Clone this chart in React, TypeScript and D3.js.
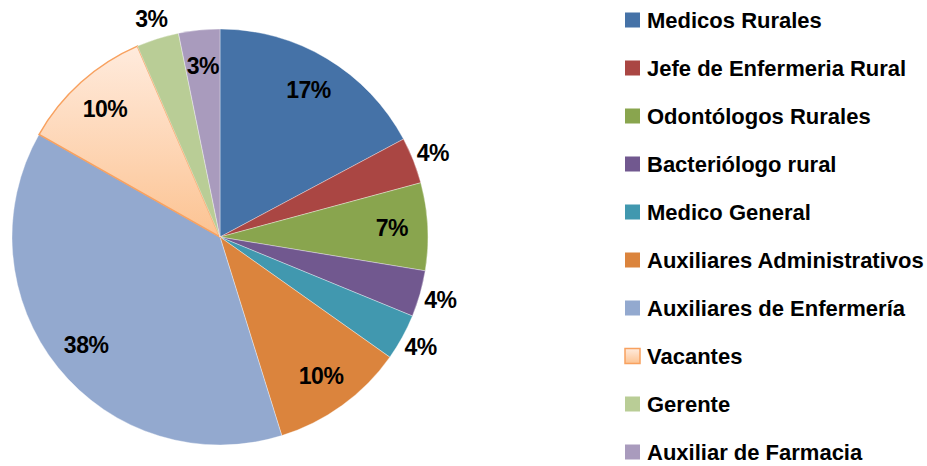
import React from "react";
import * as d3 from "d3";

const categories = [
  "Medicos Rurales",
  "Jefe de Enfermeria  Rural",
  "Odontólogos Rurales",
  "Bacteriólogo rural",
  "Medico General",
  "Auxiliares Administrativos",
  "Auxiliares de Enfermería",
  "Vacantes",
  "Gerente",
  "Auxiliar de Farmacia",
];
const values = [17.2, 3.6, 6.8, 3.6, 3.6, 10.4, 38.0, 10.3, 3.3, 3.2];
const colors = [
  "#4572A7",
  "#AA4643",
  "#89A54E",
  "#71588F",
  "#4198AF",
  "#DB843D",
  "#93A9CF",
  "url(#vacGrad)",
  "#B9CD96",
  "#A99BBD",
];
const outsideLabels = [false, true, false, true, true, false, false, false, true, false];

const W = 927;
const H = 466;
const cx = 220;
const cy = 237;
const R = 208;

export default function App() {
  const pie = d3
    .pie<number>()
    .sort(null)
    .value((d) => d)
    .startAngle(0)
    .endAngle(2 * Math.PI);
  const arcs = pie(values);
  const arc = d3.arc<d3.PieArcDatum<number>>().innerRadius(0).outerRadius(R);
  const inArc = d3.arc<d3.PieArcDatum<number>>().innerRadius(172).outerRadius(172);
  const outArc = d3.arc<d3.PieArcDatum<number>>().innerRadius(229).outerRadius(229);

  const legendY = d3.scaleLinear().domain([0, categories.length - 1]).range([20, 452]);

  const font = "'Liberation Sans', Arial, sans-serif";

  return (
    <svg
      width={W}
      height={H}
      style={{ position: "absolute", left: 0, top: 0, background: "#fff" }}
    >
      <defs>
        <linearGradient id="vacGrad" x1="0" y1="0" x2="0" y2="1">
          <stop offset="0" stopColor="#FFEBDD" />
          <stop offset="1" stopColor="#FCC392" />
        </linearGradient>
      </defs>
      <rect width={W} height={H} fill="#fff" />
      <g transform={`translate(${cx},${cy})`}>
        {arcs.map((a, i) => (
          <path
            key={i}
            d={arc(a) || ""}
            fill={colors[i]}
            stroke={i === 7 ? "#F8A15F" : "#ffffff"}
            strokeWidth={i === 7 ? 1.5 : 0.6}
            strokeOpacity={i === 7 ? 1 : 0.6}
          />
        ))}
        {arcs.map((a, i) => {
          const [x, y] = (outsideLabels[i] ? outArc : inArc).centroid(a);
          return (
            <text
              key={"l" + i}
              x={x}
              y={y}
              textAnchor="middle"
              dominantBaseline="central"
              fontFamily={font}
              fontWeight="bold"
              fontSize={23}
              fill="#000"
              letterSpacing={-0.5}
            >
              {Math.round(values[i]) + "%"}
            </text>
          );
        })}
      </g>
      <g>
        {categories.map((c, i) => (
          <g key={c} transform={`translate(625,${legendY(i)})`}>
            <rect
              x={0}
              y={-7.5}
              width={15}
              height={15}
              fill={colors[i]}
              stroke={i === 7 ? "#F8A15F" : "none"}
              strokeWidth={1.5}
            />
            <text
              x={22}
              y={0}
              dominantBaseline="central"
              fontFamily={font}
              fontWeight="bold"
              fontSize={22}
              fill="#000"
            >
              {c}
            </text>
          </g>
        ))}
      </g>
    </svg>
  );
}
